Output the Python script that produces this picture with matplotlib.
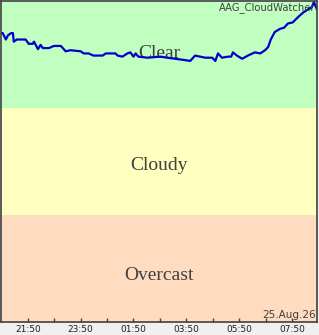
import pandas as pd
import numpy as np
import matplotlib.pyplot as plt
import matplotlib.dates as mdates

# sky condition trace (0-1 overcast, 1-2 cloudy, 2-3 clear)
times = ['20:49', '20:53', '21:00', '21:05', '21:12', '21:16', '21:18', '21:25', '21:30', '21:39',
         '21:45', '21:52', '22:01', '22:04', '22:13', '22:19', '22:24', '22:38', '22:49', '23:05',
         '23:16', '23:27', '23:50', '23:57', '00:08', '00:19', '00:40', '00:47', '01:09', '01:14',
         '01:25', '01:36', '01:43', '01:50', '01:55', '02:01', '02:22', '02:51', '03:07', '03:25',
         '03:43', '03:59', '04:10', '04:33', '04:49', '04:56', '05:02', '05:11', '05:25', '05:32',
         '05:36', '05:45', '05:57', '06:10', '06:26', '06:38', '06:49', '06:56', '07:02', '07:11',
         '07:23', '07:32', '07:41', '07:52', '08:04', '08:15', '08:26', '08:35', '08:40', '08:47']
values = [2.70, 2.70, 2.64, 2.68, 2.70, 2.70, 2.62, 2.64, 2.64, 2.64,
          2.64, 2.60, 2.60, 2.62, 2.55, 2.59, 2.56, 2.56, 2.58, 2.58,
          2.53, 2.54, 2.53, 2.51, 2.51, 2.49, 2.49, 2.51, 2.51, 2.49,
          2.48, 2.51, 2.52, 2.48, 2.51, 2.48, 2.47, 2.48, 2.47, 2.46,
          2.45, 2.44, 2.49, 2.47, 2.47, 2.44, 2.51, 2.47, 2.48, 2.48,
          2.52, 2.49, 2.46, 2.49, 2.52, 2.51, 2.54, 2.57, 2.64, 2.71,
          2.74, 2.75, 2.79, 2.80, 2.85, 2.89, 2.92, 2.94, 2.99, 2.92]

major_ticks = ['21:50', '23:50', '01:50', '03:50', '05:50', '07:50']
minor_ticks = ['22:50', '00:50', '02:50', '04:50', '06:50', '08:50']

bands = ['Overcast', 'Cloudy', 'Clear']
band_lo = [0, 1, 2]
band_hi = [1, 2, 3]
band_colors = ['#ffdcc0', '#ffffc0', '#c0ffc0']
label_y = [0.43, 1.46, 2.51]


def to_time(s):
    day = '2026-08-24' if s.startswith('2') else '2026-08-25'
    return pd.Timestamp(day + ' ' + s)


t = [to_time(s) for s in times]
start = to_time('20:49')
end = to_time('08:47')

fig = plt.figure(figsize=(3.19, 3.35), dpi=100, facecolor='#f0f0f0')
ax = fig.add_axes([1/319, 13/335, 316/319, 321/335])

for lo, hi, c in zip(band_lo, band_hi, band_colors):
    ax.axhspan(lo, hi, color=c, lw=0, zorder=0)
for name, y in zip(bands, label_y):
    ax.text(0.5, y, name, transform=ax.get_yaxis_transform(), ha='center', va='center',
            fontsize=14, family='Liberation Serif', color='#404040', zorder=1)

ax.plot(t, values, color='#0000cc', lw=1.6, zorder=2)

ax.text(0.995, 0.998, 'AAG_CloudWatcher', transform=ax.transAxes, ha='right', va='top',
        fontsize=7.2, color='#404040', zorder=3)
ax.text(0.995, 0.005, '25.Aug.26', transform=ax.transAxes, ha='right', va='bottom',
        fontsize=7.5, color='#404040', zorder=3)

ax.set_ylim(0, 3)
ax.set_yticks([])
ax.set_xticks([mdates.date2num(to_time(s)) for s in major_ticks])
ax.set_xticklabels(major_ticks)
ax.set_xticks([mdates.date2num(to_time(s)) for s in minor_ticks], minor=True)
ax.set_xlim(start, end)
ax.tick_params(axis='x', which='both', direction='in', length=3, width=1, color='#404040',
               labelsize=6.5, labelcolor='#202020', pad=2)
for sp in ax.spines.values():
    sp.set_color('#404040')
    sp.set_linewidth(1.2)

fig.savefig('out.png', dpi=100, facecolor=fig.get_facecolor())
